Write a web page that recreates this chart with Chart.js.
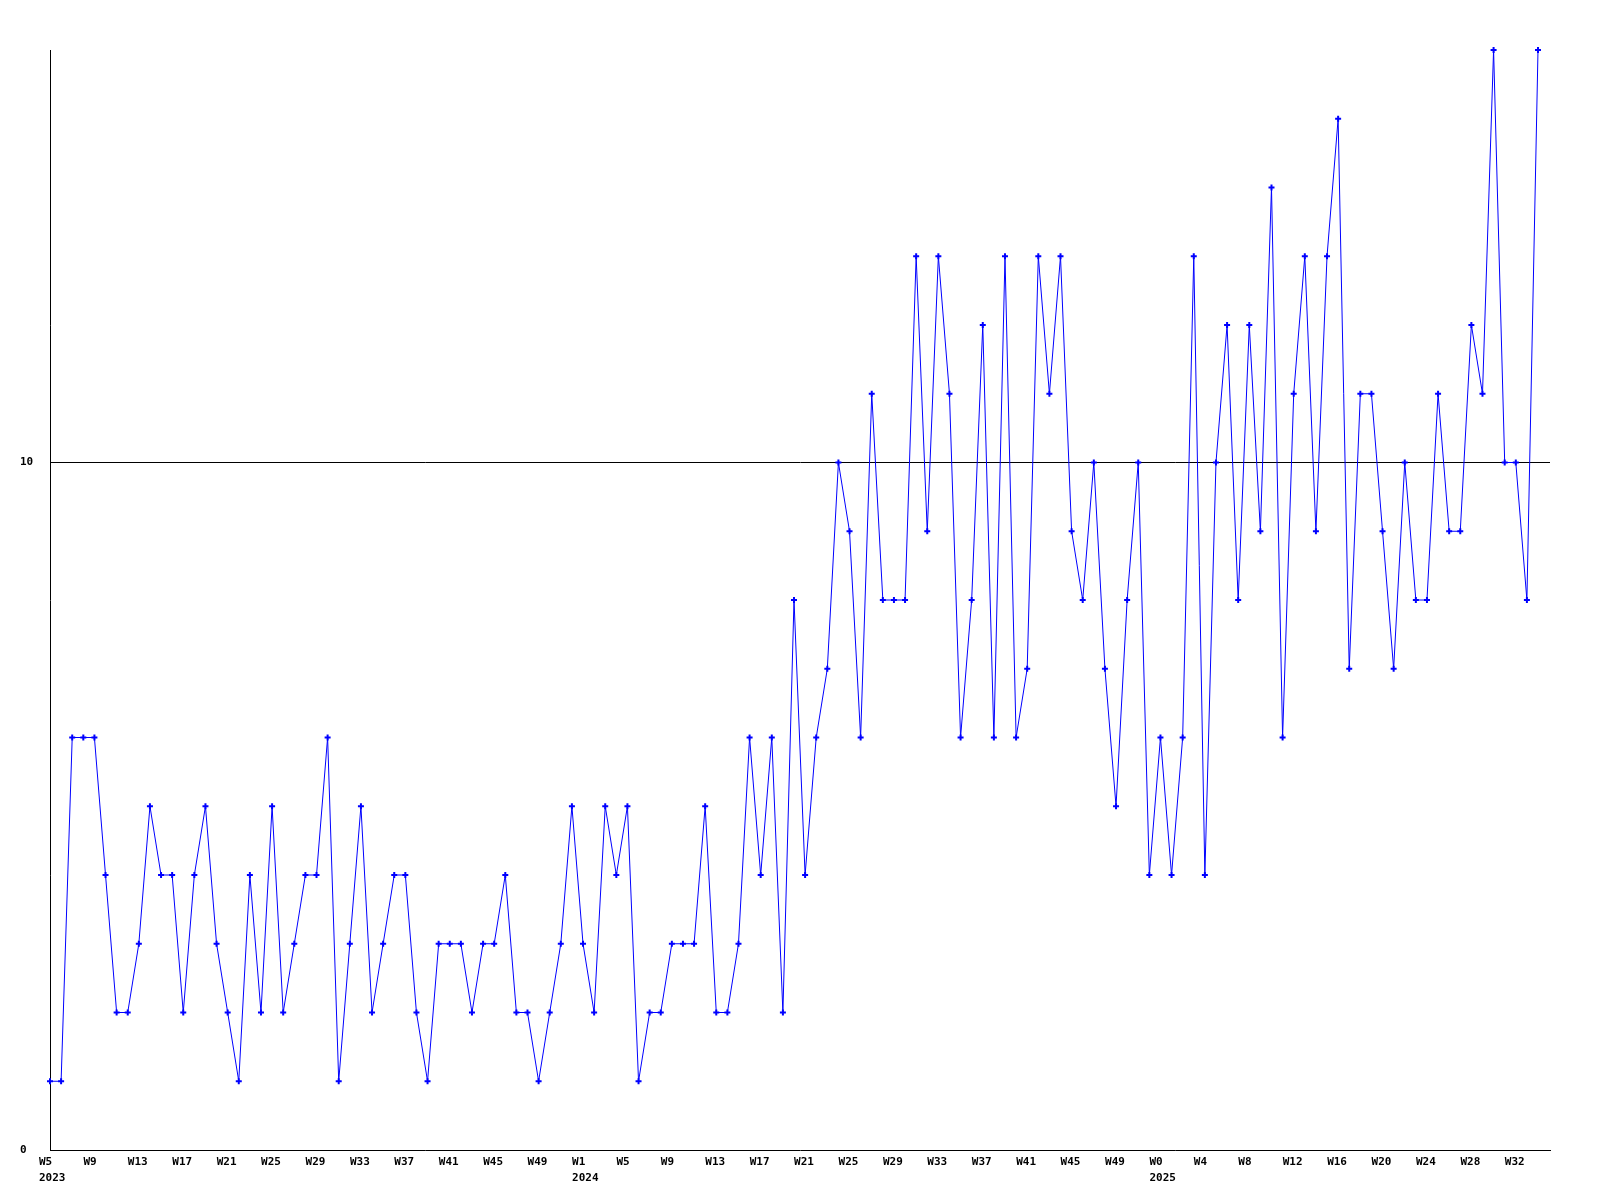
<!DOCTYPE html>
<html>
<head>
<meta charset="utf-8">
<script src="https://cdn.jsdelivr.net/npm/chart.js@4/dist/chart.umd.min.js"></script>
<style>
  html, body { margin: 0; padding: 0; background: #fff; }
  canvas { display: block; }
</style>
</head>
<body>
<canvas id="weeklyChart" width="1600" height="1200"></canvas>
<script>
// semaines couvertes : [année, première semaine, dernière semaine]
const yearSpans = [[2023, 5, 52], [2024, 1, 52], [2025, 0, 34]];

// valeurs hebdomadaires, dans l'ordre des semaines
const values2023 = [1, 1, 6, 6, 6, 4, 2, 2, 3, 5, 4, 4, 2, 4, 5, 3, 2, 1, 4, 2, 5, 2, 3, 4,
                    4, 6, 1, 3, 5, 2, 3, 4, 4, 2, 1, 3, 3, 3, 2, 3, 3, 4, 2, 2, 1, 2, 3, 5];
const values2024 = [3, 2, 5, 4, 5, 1, 2, 2, 3, 3, 3, 5, 2, 2, 3, 6, 4, 6, 2, 8, 4, 6, 7, 10,
                    9, 6, 11, 8, 8, 8, 13, 9, 13, 11, 6, 8, 12, 6, 13, 6, 7, 13, 11, 13, 9, 8,
                    10, 7, 5, 8, 10, 4];
const values2025 = [6, 4, 6, 13, 4, 10, 12, 8, 12, 9, 14, 6, 11, 13, 9, 13, 15, 7, 11, 11,
                    9, 7, 10, 8, 8, 11, 9, 9, 12, 11, 16, 10, 10, 8, 16];

const yTicks = [0, 10];
const labelEvery = 4;

// libellés W.. + année sur la première semaine de chaque année
const weekLabels = [];
const yearStart = {};
yearSpans.forEach(([year, first, last]) => {
    yearStart[weekLabels.length] = String(year);
    for (let w = first; w <= last; w++) weekLabels.push("W" + w);
});
const allValues = [...values2023, ...values2024, ...values2025];
const points = allValues.map((v, i) => ({ x: i, y: v }));

const ctx = document.getElementById("weeklyChart").getContext("2d");
const monoFont = { family: "'DejaVu Sans Mono', monospace", size: 11, weight: "bold", lineHeight: 1.38 };

new Chart(ctx, {
    type: "line",
    data: {
        datasets: [{
            data: points,
            borderColor: "#0000ff",
            backgroundColor: "#0000ff",
            borderWidth: 1,
            pointStyle: "cross",
            pointRadius: 3,
            pointBorderWidth: 2,
            tension: 0,
            clip: false
        }]
    },
    options: {
        responsive: false,
        animation: false,
        layout: { padding: { left: 20, top: 50, right: 50, bottom: 0 } },
        plugins: { legend: { display: false }, tooltip: { enabled: false } },
        scales: {
            x: {
                type: "linear",
                min: 0,
                max: allValues.length - 1 + 1.08,
                afterBuildTicks: (scale) => {
                    const t = [];
                    for (let i = 0; i < weekLabels.length; i += labelEvery) t.push({ value: i });
                    scale.ticks = t;
                },
                afterFit: (scale) => { scale.height = 50; },
                grid: { display: false, drawTicks: false },
                border: { display: true, color: "#000", width: 1 },
                ticks: {
                    autoSkip: false,
                    maxRotation: 0,
                    minRotation: 0,
                    align: "start",
                    labelOffset: -11,
                    padding: 5,
                    color: "#000",
                    font: monoFont,
                    callback: (value) => {
                        const lbl = weekLabels[value];
                        return yearStart[value] ? [lbl, yearStart[value]] : lbl;
                    }
                }
            },
            y: {
                min: 0,
                max: 16,
                afterBuildTicks: (scale) => { scale.ticks = yTicks.map(v => ({ value: v })); },
                afterFit: (scale) => { scale.width = 30; },
                grid: {
                    drawTicks: false,
                    color: (c) => (c.tick && c.tick.value === 10 ? "#000" : "rgba(0,0,0,0)"),
                    lineWidth: 1
                },
                border: { display: true, color: "#000", width: 1 },
                ticks: {
                    crossAlign: "far",
                    color: "#000",
                    font: monoFont
                }
            }
        }
    }
});
</script>
</body>
</html>
